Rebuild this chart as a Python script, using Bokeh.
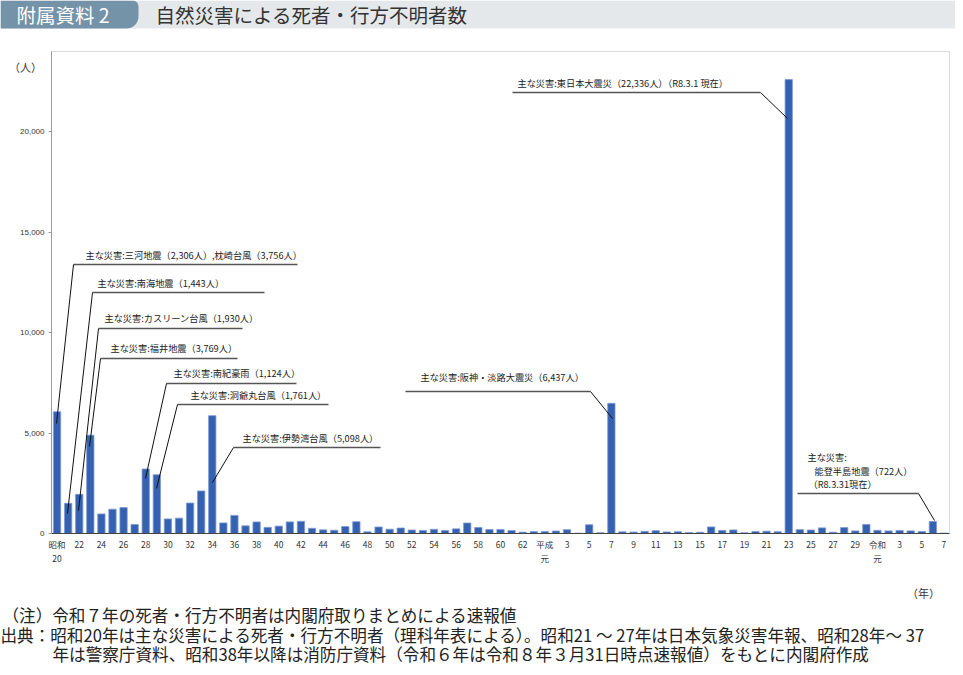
from bokeh.plotting import figure
from bokeh.models import (ColumnDataSource, FixedTicker, NumeralTickFormatter,
                          Label, BoxAnnotation, LinearAxis, Range1d)
from bokeh.embed import file_html
from bokeh.resources import INLINE

# ---------------- data ----------------
# deaths / missing persons per year
showa_deaths = [6062, 1504, 1950, 4897, 975, 1210, 1291, 449, 3212, 2926,
                727, 765, 1515, 2120, 5868, 528, 902, 381, 575, 307,
                367, 578, 607, 259, 183, 163, 350, 587, 85, 324,
                213, 273, 174, 153, 208, 148, 232, 524, 301, 199,
                199, 148, 69, 93]                      # 昭和20 - 63
heisei_deaths = [96, 123, 190, 19, 438, 39, 6482, 84, 71, 109,
                 141, 78, 90, 48, 62, 327, 153, 177, 39, 101,
                 115, 89, 22600, 192, 173, 280, 65, 297, 129, 452]  # 平成元 - 30
reiwa_deaths = [159, 128, 150, 130, 100, 600, 25]     # 令和元 - 7

showa_years = list(range(20, 64))
heisei_years = list(range(1, 31))
reiwa_years = list(range(1, 8))

y_ticks = [0, 5000, 10000, 15000, 20000]

ann_texts = [
    "主な災害:三河地震（2,306人）,枕崎台風（3,756人）",
    "主な災害:南海地震（1,443人）",
    "主な災害:カスリーン台風（1,930人）",
    "主な災害:福井地震（3,769人）",
    "主な災害:南紀豪雨（1,124人）",
    "主な災害:洞爺丸台風（1,761人）",
    "主な災害:伊勢湾台風（5,098人）",
    "主な災害:阪神・淡路大震災（6,437人）",
    "主な災害:東日本大震災（22,336人）（R8.3.1 現在）",
]
noto_texts = ["主な災害:", "能登半島地震（722人）", "（R8.3.31現在）"]

title_text = "自然災害による死者・行方不明者数"
tab_text = "附属資料 2"
note_lines = [
    "（注）令和７年の死者・行方不明者は内閣府取りまとめによる速報値",
    "出典：昭和20年は主な災害による死者・行方不明者（理科年表による）。昭和21 ～ 27年は日本気象災害年報、昭和28年～ 37",
    "年は警察庁資料、昭和38年以降は消防庁資料（令和６年は令和８年３月31日時点速報値）をもとに内閣府作成",
]

# ---------------- layout (canvas pixels) ----------------
deaths = showa_deaths + heisei_deaths + reiwa_deaths
n = len(deaths)
xs = list(range(n))

labels = []
for i, y in enumerate(showa_years):
    labels.append("昭和\n20" if i == 0 else str(y))
for i, y in enumerate(heisei_years):
    labels.append("平成\n元" if i == 0 else str(y))
for i, y in enumerate(reiwa_years):
    labels.append("令和\n元" if i == 0 else str(y))
tick_idx = list(range(0, n, 2))

FL, FR, FT, FB = 51, 949, 51, 533   # chart box in canvas pixels
Y_MAX = 24000
W, H = 955, 667


def dx(px):
    return -0.5 + (px - FL) * n / (FR - FL)


def dy(py):
    return (FB - py) * Y_MAX / (FB - FT)


JP = "Noto Sans CJK JP"

p = figure(width=W, height=H,
           x_range=Range1d(dx(0), dx(W)), y_range=Range1d(dy(H), dy(0)),
           output_backend="svg", toolbar_location=None,
           x_axis_location=None, y_axis_location=None, min_border=0)
p.min_border_left = 0
p.min_border_right = 0
p.min_border_top = 0
p.min_border_bottom = 0
p.background_fill_color = "white"
p.border_fill_color = "white"
p.outline_line_color = None
p.grid.visible = False

# header band and tab
p.add_layout(BoxAnnotation(left=dx(0), right=dx(W), top=dy(0), bottom=dy(28),
                           fill_color="#e4e8eb", fill_alpha=1, line_color=None,
                           level="underlay"))
p.add_layout(BoxAnnotation(left=dx(0), right=dx(138), top=dy(0), bottom=dy(28),
                           fill_color="#7593a8", fill_alpha=1, line_color=None,
                           border_radius=(0, 6, 12, 0), level="underlay"))
# chart box
p.add_layout(BoxAnnotation(left=-0.5, right=n - 0.5, bottom=0, top=Y_MAX,
                           fill_color=None, fill_alpha=0, line_color="#8c8c8c",
                           line_width=1, level="underlay"))

src = ColumnDataSource(dict(x=xs, deaths=deaths))
p.vbar(x="x", top="deaths", width=0.66, source=src,
       fill_color="#3561b0", line_color="#7c9bd6", line_width=0.8)

# axes (pinned to the chart box)
yaxis = LinearAxis(fixed_location=-0.5, bounds=(0, Y_MAX))
yaxis.ticker = FixedTicker(ticks=y_ticks)
yaxis.formatter = NumeralTickFormatter(format="0,0")
yaxis.axis_line_color = "#9a9a9a"
yaxis.major_tick_line_color = "#9a9a9a"
yaxis.major_tick_out = 3
yaxis.major_tick_in = 0
yaxis.minor_tick_line_color = None
yaxis.major_label_text_font = "Liberation Sans"
yaxis.major_label_text_font_size = "8px"
yaxis.major_label_text_color = "#333333"
yaxis.major_label_standoff = 4
p.add_layout(yaxis, "left")

xaxis = LinearAxis(fixed_location=0, bounds=(-0.5, n - 0.5))
xaxis.ticker = FixedTicker(ticks=tick_idx)
xaxis.major_label_overrides = {i: labels[i] for i in tick_idx}
xaxis.axis_line_color = "#444444"
xaxis.major_tick_line_color = None
xaxis.major_tick_out = 0
xaxis.major_tick_in = 0
xaxis.minor_tick_line_color = None
xaxis.minor_tick_out = 0
xaxis.major_label_text_font = JP
xaxis.major_label_text_font_size = "8.5px"
xaxis.major_label_text_color = "#333333"
xaxis.major_label_standoff = 4
p.add_layout(xaxis, "below")

# header texts
p.add_layout(Label(x=dx(16), y=dy(14), text=tab_text, text_font=JP,
                   text_font_size="19.5px", text_color="white",
                   text_baseline="middle", text_align="left"))
p.add_layout(Label(x=dx(155), y=dy(14), text=title_text, text_font=JP,
                   text_font_size="19.5px", text_color="#333333",
                   text_baseline="middle", text_align="left"))

# unit labels
p.add_layout(Label(x=dx(25), y=dy(66), text="（人）", text_font=JP,
                   text_font_size="11px", text_color="#333333",
                   text_baseline="middle", text_align="center"))
p.add_layout(Label(x=dx(923), y=dy(592), text="（年）", text_font=JP,
                   text_font_size="11px", text_color="#333333",
                   text_baseline="middle", text_align="center"))

# annotations: text position, rule (x0, x1, y), leader (start, end)
ann_pos = [(85, 254), (97, 282), (104, 317), (110, 347), (173, 372),
           (190, 394), (242, 437), (420, 376), (517, 82)]
ann_rule = [(73, 297, 264), (92, 264, 292), (98, 242, 328), (100, 237, 358),
            (166, 296, 383), (177, 328, 404), (233, 380, 447), (405, 590, 391),
            (512, 760, 92), (797, 918, 493)]
ann_lead = [((73, 264), (56, 423)), ((92, 292), (67, 513)), ((98, 328), (78, 510)),
            ((100, 358), (89, 446)), ((166, 383), (145, 478)), ((177, 404), (156, 488)),
            ((233, 447), (212, 482)), ((590, 391), (612, 418)), ((760, 92), (787, 118)),
            ((918, 493), (934, 520))]

p.segment(x0=[dx(a) for a, b, c in ann_rule], x1=[dx(b) for a, b, c in ann_rule],
          y0=[dy(c) for a, b, c in ann_rule], y1=[dy(c) for a, b, c in ann_rule],
          line_color="#555555", line_width=1.3)
p.segment(x0=[dx(s[0]) for s, e in ann_lead], x1=[dx(e[0]) for s, e in ann_lead],
          y0=[dy(s[1]) for s, e in ann_lead], y1=[dy(e[1]) for s, e in ann_lead],
          line_color="#111111", line_width=1)

for t, (px, py) in zip(ann_texts, ann_pos):
    p.add_layout(Label(x=dx(px), y=dy(py), text=t, text_font=JP,
                       text_font_size="9.2px", text_color="#222222",
                       text_baseline="middle", text_align="left"))
for t, (px, py) in zip(noto_texts, [(807, 456), (814, 470), (808, 483)]):
    p.add_layout(Label(x=dx(px), y=dy(py), text=t, text_font=JP,
                       text_font_size="9.2px", text_color="#222222",
                       text_baseline="middle", text_align="left"))

# footnotes
for t, (px, py) in zip(note_lines, [(2, 614), (0, 634), (52, 653)]):
    p.add_layout(Label(x=dx(px), y=dy(py), text=t, text_font=JP,
                       text_font_size="16.6px", text_color="#222222",
                       text_baseline="middle", text_align="left"))

open("out.html", "w").write(file_html(p, INLINE))
